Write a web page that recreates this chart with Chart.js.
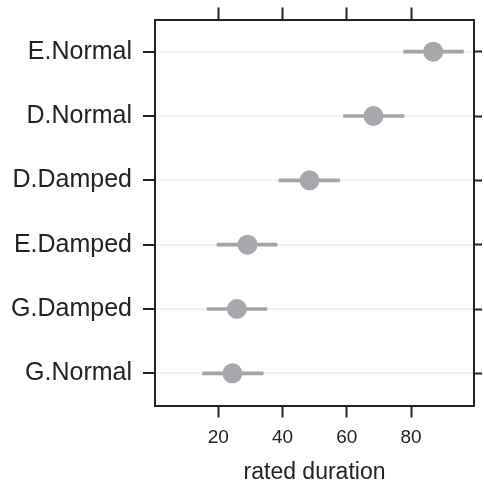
<!DOCTYPE html>
<html>
<head>
<meta charset="utf-8">
<script src="https://cdn.jsdelivr.net/npm/chart.js@4.4.1/dist/chart.umd.min.js"></script>
<style>
  body { margin: 0; background: #fff; }
  #wrap { width: 484px; height: 484px; }
</style>
</head>
<body>
<div id="wrap"><canvas id="dot_chart"></canvas></div>
<script>
// categories, top to bottom
const categories = ['E.Normal', 'D.Normal', 'D.Damped', 'E.Damped', 'G.Damped', 'G.Normal'];
// mean rated duration and interval ends
const means = [86.9, 68.3, 48.4, 29.1, 25.8, 24.4];
const lower = [77.7, 59.0, 38.9, 19.6, 16.5, 15.1];
const upper = [96.3, 77.8, 57.8, 38.3, 35.1, 34.0];
const xTicks = [20, 40, 60, 80];

const xMin = 0.3;
const xMax = 99.6;
const font = "'Liberation Sans', Arial, Helvetica, sans-serif";
const ink = '#222222';
const dotGrey = '#a7a8ac';

const setXTicks = (axis) => { axis.ticks = xTicks.map(v => ({ value: v })); };
// keep label overhang from pushing the panel around
const noPad = (axis) => {
    axis.paddingTop = 0;
    axis.paddingBottom = 0;
    axis.paddingLeft = 0;
    axis.paddingRight = 0;
};

const ctx = document.getElementById('dot_chart').getContext('2d');

const dot_chart = new Chart(ctx, {
    type: 'bar',
    data: {
        labels: categories,
        datasets: [
            {
                type: 'scatter',
                data: categories.map((c, i) => ({ x: means[i], y: c })),
                backgroundColor: dotGrey,
                borderWidth: 0,
                pointRadius: 10,
                pointHoverRadius: 10,
                order: 0,
                xAxisID: 'x',
                yAxisID: 'y'
            },
            {
                type: 'bar',
                indexAxis: 'y',
                data: categories.map((c, i) => [lower[i], upper[i]]),
                backgroundColor: '#a3a4a8',
                barThickness: 3,
                borderWidth: 0,
                order: 1,
                xAxisID: 'x',
                yAxisID: 'y'
            }
        ]
    },
    options: {
        responsive: true,
        maintainAspectRatio: false,
        animation: false,
        events: [],
        plugins: {
            legend: { display: false },
            tooltip: { enabled: false }
        },
        layout: {
            padding: { left: 0, right: 0, top: 7.5, bottom: 0 }
        },
        scales: {
            x: {
                type: 'linear',
                position: 'bottom',
                min: xMin,
                max: xMax,
                offset: false,
                afterBuildTicks: setXTicks,
                afterFit: (axis) => { noPad(axis); axis.height = 78.5; },
                grid: { offset: false, drawOnChartArea: false, tickLength: 12, tickColor: ink, tickWidth: 2 },
                border: { color: ink, width: 2 },
                ticks: { color: ink, padding: 9, maxRotation: 0, font: { family: font, size: 19 } },
                title: {
                    display: true,
                    text: 'rated duration',
                    color: ink,
                    font: { family: font, size: 23, lineHeight: 1 },
                    padding: { top: 15.5, bottom: 0 }
                }
            },
            x2: {
                type: 'linear',
                position: 'top',
                min: xMin,
                max: xMax,
                offset: false,
                afterBuildTicks: setXTicks,
                afterFit: noPad,
                grid: { offset: false, drawOnChartArea: false, tickLength: 12, tickColor: ink, tickWidth: 2 },
                border: { color: ink, width: 2 },
                ticks: { display: false }
            },
            y: {
                type: 'category',
                position: 'left',
                offset: true,
                afterFit: (axis) => { noPad(axis); axis.width = 155; },
                grid: { offset: false, color: '#f1f1f1', lineWidth: 2, tickLength: 12, tickColor: ink, tickWidth: 2 },
                border: { color: ink, width: 2 },
                ticks: { color: ink, padding: 11, font: { family: font, size: 25 } }
            },
            y2: {
                type: 'category',
                position: 'right',
                labels: categories,
                offset: true,
                afterFit: noPad,
                grid: { offset: false, drawOnChartArea: false, tickLength: 8, tickColor: ink, tickWidth: 2 },
                border: { color: ink, width: 2 },
                ticks: { display: false }
            }
        }
    }
});
</script>
</body>
</html>
